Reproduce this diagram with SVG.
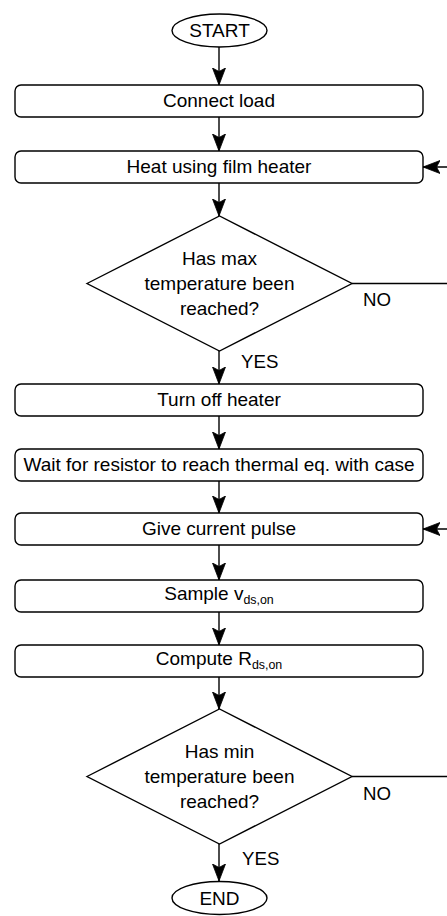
<svg xmlns="http://www.w3.org/2000/svg" width="447" height="916" viewBox="0 0 447 916">
<defs>
<style>
.s{fill:#fff;stroke:#000;stroke-width:1.4}
.t{font-family:"Liberation Sans",Arial,sans-serif;font-size:19px;fill:#000;text-anchor:middle}
.l{font-family:"Liberation Sans",Arial,sans-serif;font-size:18.67px;fill:#000}
.sub{font-size:12.4px}
.c{fill:none;stroke:#000;stroke-width:1.4}
</style>
<marker id="ah" viewBox="0 0 18 14" refX="17" refY="7" markerWidth="18" markerHeight="14" markerUnits="userSpaceOnUse" orient="auto">
<path d="M17,7 L0,0.5 L3.5,7 L0,13.5 Z" fill="#000" stroke="#000" stroke-width="0.8"/>
</marker>
</defs>
<rect width="447" height="916" fill="#fff"/>
<g id="connectors">
<line class="c" x1="219" y1="47" x2="219" y2="85" marker-end="url(#ah)"/>
<line class="c" x1="219" y1="117" x2="219" y2="151" marker-end="url(#ah)"/>
<line class="c" x1="219" y1="183" x2="219" y2="216" marker-end="url(#ah)"/>
<line class="c" x1="219" y1="351" x2="219" y2="384" marker-end="url(#ah)"/>
<line class="c" x1="219" y1="416" x2="219" y2="449" marker-end="url(#ah)"/>
<line class="c" x1="219" y1="481" x2="219" y2="513" marker-end="url(#ah)"/>
<line class="c" x1="219" y1="545" x2="219" y2="580" marker-end="url(#ah)"/>
<line class="c" x1="219" y1="612" x2="219" y2="645" marker-end="url(#ah)"/>
<line class="c" x1="219" y1="677" x2="219" y2="709" marker-end="url(#ah)"/>
<line class="c" x1="219" y1="844" x2="219" y2="881" marker-end="url(#ah)"/>
<path class="c" d="M352,283.5 H470 V167 H423" marker-end="url(#ah)"/>
<path class="c" d="M352,776.5 H470 V529 H423" marker-end="url(#ah)"/>
<text class="l" x="241" y="367.7">YES</text>
<text class="l" x="363" y="305.7">NO</text>
<text class="l" x="242" y="865">YES</text>
<text class="l" x="363" y="800">NO</text>
</g>
<g id="start">
<ellipse class="s" cx="219.5" cy="30.5" rx="47.5" ry="16.5"/>
<text class="t" x="219.5" y="37.3">START</text>
</g>
<g id="connect-load">
<rect class="s" x="15" y="85" width="408" height="32" rx="6"/>
<text class="t" x="219" y="106.5">Connect load</text>
</g>
<g id="heat">
<rect class="s" x="15" y="151" width="408" height="32" rx="6"/>
<text class="t" x="219" y="172.5">Heat using film heater</text>
</g>
<g id="max-check">
<polygon class="s" points="87,283.5 219.5,216 352,283.5 219.5,351"/>
<text class="t" x="219.5" y="265">Has max</text>
<text class="t" x="219.5" y="290">temperature been</text>
<text class="t" x="219.5" y="315">reached?</text>
</g>
<g id="turn-off">
<rect class="s" x="15" y="384" width="408" height="32" rx="6"/>
<text class="t" x="219" y="405.5">Turn off heater</text>
</g>
<g id="wait">
<rect class="s" x="15" y="449" width="408" height="32" rx="6"/>
<text class="t" x="219" y="470.5">Wait for resistor to reach thermal eq. with case</text>
</g>
<g id="pulse">
<rect class="s" x="15" y="513" width="408" height="32" rx="6"/>
<text class="t" x="219" y="534.5">Give current pulse</text>
</g>
<g id="sample">
<rect class="s" x="15" y="580" width="408" height="32" rx="6"/>
<text class="t" x="219" y="599.5">Sample v<tspan class="sub" dy="4">ds,on</tspan></text>
</g>
<g id="compute">
<rect class="s" x="15" y="645" width="408" height="32" rx="6"/>
<text class="t" x="219" y="664.5">Compute R<tspan class="sub" dy="4">ds,on</tspan></text>
</g>
<g id="min-check">
<polygon class="s" points="87,776.5 219.5,709 352,776.5 219.5,844"/>
<text class="t" x="219.5" y="758">Has min</text>
<text class="t" x="219.5" y="783">temperature been</text>
<text class="t" x="219.5" y="808">reached?</text>
</g>
<g id="end">
<ellipse class="s" cx="219.5" cy="898" rx="47.5" ry="16.5"/>
<text class="t" x="219.5" y="904.8">END</text>
</g>
</svg>
